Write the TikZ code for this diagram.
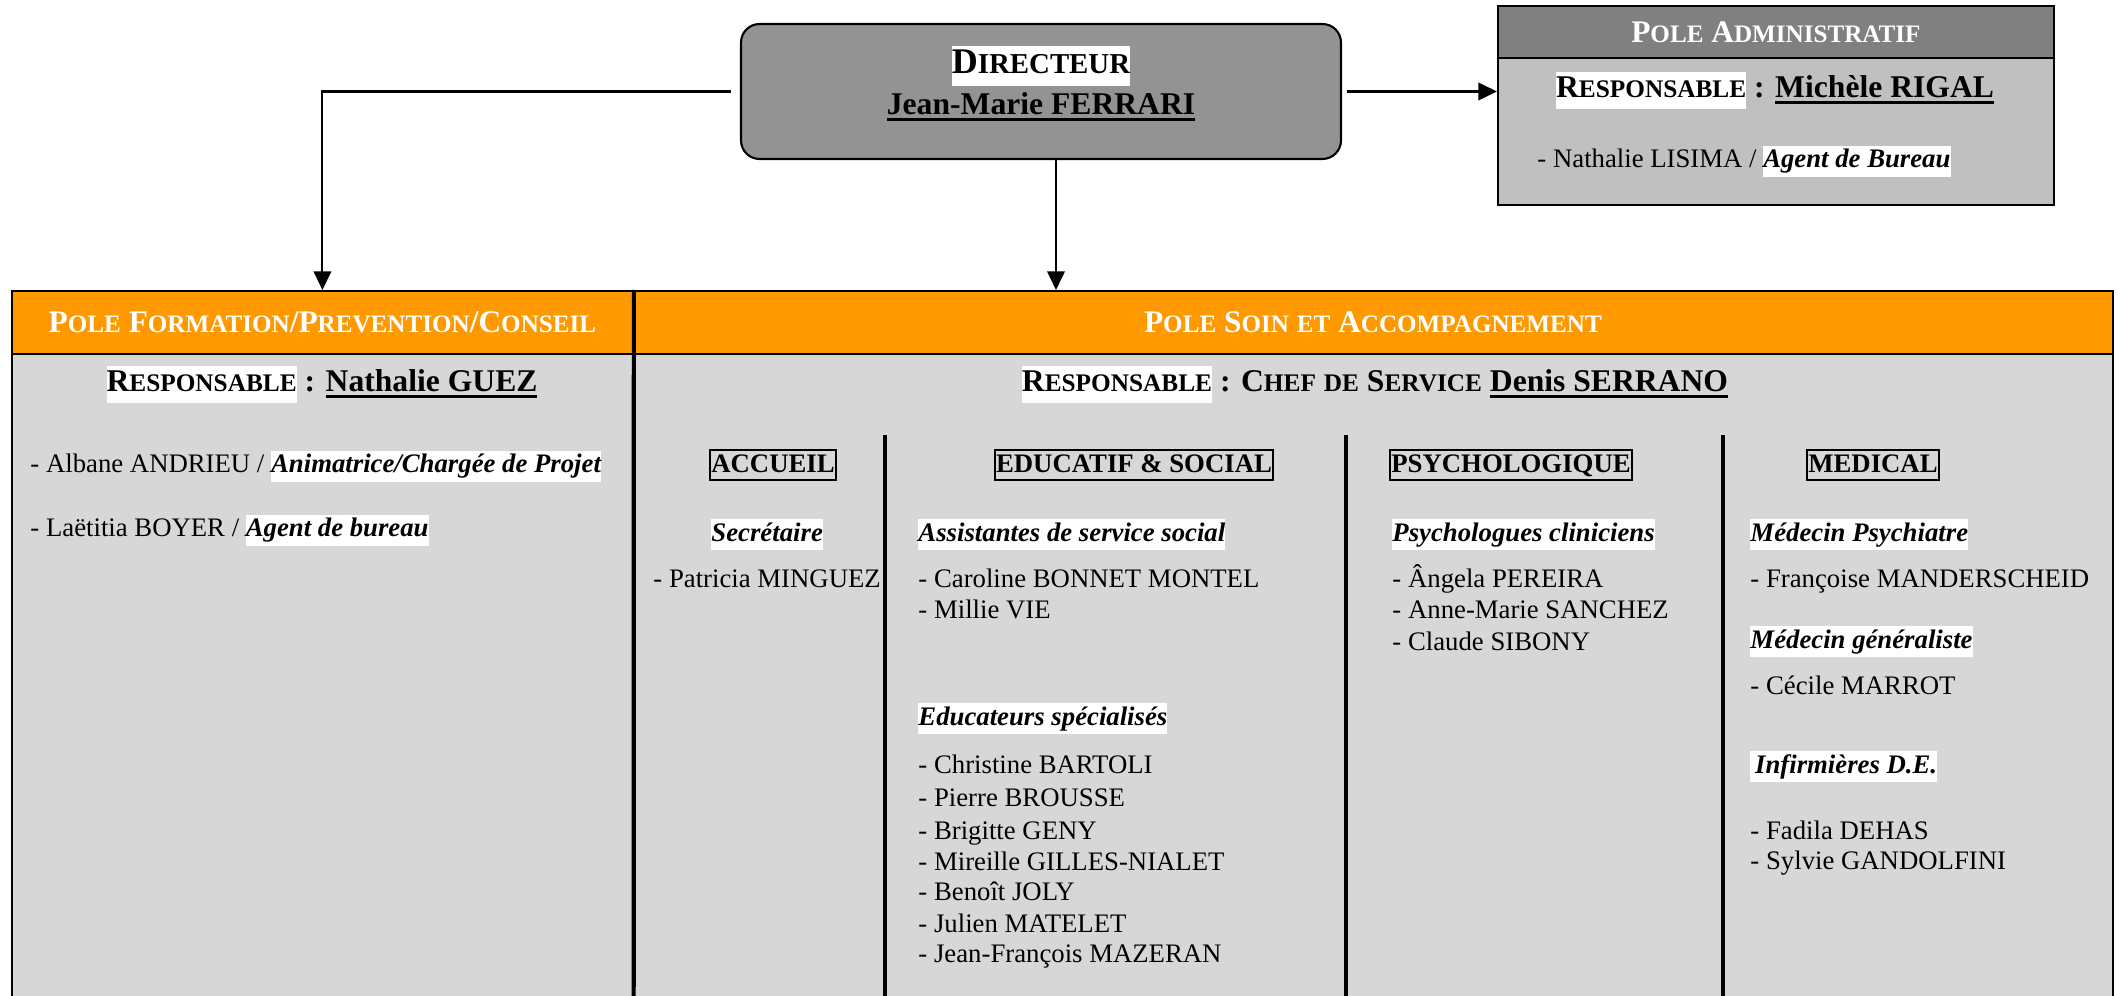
\documentclass[tikz,border=0pt]{standalone}
\usepackage{fontspec}
\setmainfont{Liberation Serif}
\usepackage{xcolor}
\usepackage{tikz}
\usetikzlibrary{arrows.meta,positioning,calc}

\definecolor{dirgray}{HTML}{939393}
\definecolor{admdark}{HTML}{808080}
\definecolor{admlight}{HTML}{C0C0C0}
\definecolor{poleorange}{HTML}{FF9900}
\definecolor{panelgray}{HTML}{D7D7D7}

\newcommand\pxu{0.43pt}
\newcommand\fsc[2]{#1\scalebox{0.8}{#2}}
\newcommand\hl[1]{{\setlength\fboxsep{0pt}\colorbox{white}{\strut#1}}}
\newcommand\thickul[1]{\setbox0\hbox{#1}\rlap{\rule[-2.6pt]{\wd0}{1.1pt}}\box0}

\begin{document}
\begin{tikzpicture}[x=0.43pt, y=-0.43pt,
  dirbox/.style={draw, line width=0.9pt, fill=dirgray, rounded corners=8pt,
    minimum width=600*\pxu, minimum height=135*\pxu},
  bar/.style={draw, line width=0.8pt, fill=poleorange, anchor=north west, inner sep=0pt,
    minimum height=63*\pxu, text=white, font=\fontsize{13.5}{15}\selectfont\bfseries},
  panel/.style={draw, line width=0.7pt, fill=panelgray, anchor=north west, inner sep=0pt,
    minimum height=700*\pxu},
  arr/.style={line width=0.9pt, -{Triangle[length=8pt, width=7.5pt]}},
  colhead/.style={draw, line width=0.9pt, inner xsep=0.6pt, inner ysep=0.8pt,
    text height=9pt, text depth=2.4pt, font=\fontsize{11.5}{13.5}\selectfont\bfseries},
  resp/.style={anchor=base, inner sep=0pt, font=\fontsize{13.6}{16}\selectfont\bfseries},
  item/.style={anchor=base west, inner sep=0pt, font=\fontsize{11.5}{13.5}\selectfont},
  role/.style={item, font=\fontsize{11.5}{13.5}\selectfont\bfseries\itshape}]
\useasboundingbox (0,0) rectangle (2119,996);

\node[dirbox] (dir) at (1041,91.5) {};
\node[resp, font=\fontsize{15.5}{17}\selectfont\bfseries] (dirtitle) at (1041,74) {\hl{\fsc{D}{IRECTEUR}}};
\node[resp] (dirname) at (1041,115) {\thickul{Jean-Marie FERRARI}};

\node[draw, line width=0.8pt, fill=admlight, anchor=north west, inner sep=0pt,
  minimum width=556*\pxu, minimum height=199*\pxu] (adm) at (1497,5) {};
\node[draw, line width=0.8pt, fill=admdark, anchor=north west, inner sep=0pt,
  minimum width=556*\pxu, minimum height=52*\pxu, text=white,
  font=\fontsize{13.5}{15}\selectfont\bfseries] (admhead) at (1497,5)
  {\raisebox{-2.5pt}{\fsc{P}{OLE} \fsc{A}{DMINISTRATIF}}};
\node[resp] (admresp) at (1775,98) {\hl{\fsc{R}{ESPONSABLE}} : \thickul{Michèle RIGAL}};
\node[item] (admitem) at (1537,168) {- Nathalie LISIMA / \hl{\bfseries\itshape Agent de Bureau}};

\node[panel, minimum width=621*\pxu] (formbody) at (11,353) {};
\node[panel, minimum width=1480*\pxu] (soinbody) at (632,353) {};
\node[bar, minimum width=621*\pxu] (formhead) at (11,290)
  {\fsc{P}{OLE} \fsc{F}{ORMATION}/\fsc{P}{REVENTION}/\fsc{C}{ONSEIL}};
\node[bar, minimum width=1480*\pxu] (soinhead) at (632,290)
  {\fsc{P}{OLE} \fsc{S}{OIN} \scalebox{0.8}{ET} \fsc{A}{CCOMPAGNEMENT}};
\draw[line width=1.8pt] (formhead.north east) -- (formbody.south east);
\foreach \x in {885,1346,1723}
  \draw[line width=1.8pt] (\x,435) -- (\x,1000);

\draw[arr, shorten <=4pt] (dir.west) -| (formhead.north);
\draw[arr, shorten <=2pt] (dir.east) -- (dir.east -| adm.west);
\draw[arr] ([xshift=15*\pxu]dir.south) -- ([xshift=15*\pxu]dir.south |- soinhead.north);

\node[resp] (formresp) at (322,392) {\hl{\fsc{R}{ESPONSABLE}} : \thickul{Nathalie GUEZ}};
\node[resp] (soinresp) at (1375,392) {\hl{\fsc{R}{ESPONSABLE}} : \fsc{C}{HEF} \scalebox{0.8}{DE} \fsc{S}{ERVICE} \thickul{Denis SERRANO}};
\node[item] (form1) at (30,473) {- Albane ANDRIEU / \hl{\bfseries\itshape Animatrice/Chargée de Projet}};
\node[item] (form2) at (30,537) {- Laëtitia BOYER / \hl{\bfseries\itshape Agent de bureau}};

\foreach \x/\lab/\nm in {773/ACCUEIL/acc, 1134/EDUCATIF \& SOCIAL/edu, 1511/PSYCHOLOGIQUE/psy, 1873/MEDICAL/med}
  \node[colhead] (\nm) at (\x,465) {\lab};

\node[role] (accrole) at (711,541) {\hl{Secrétaire}};
\node[item] (acc1) at (653,587) {- Patricia MINGUEZ};

\node[role] (asrole) at (918,541) {\hl{Assistantes de service social}};
\foreach \y/\lab [count=\i] in {587/Caroline BONNET MONTEL, 618/Millie VIE}
  \node[item] (as\i) at (918,\y) {- \lab};
\node[role] (edrole) at (918,725) {\hl{Educateurs spécialisés}};
\foreach \y/\lab [count=\i] in {773/Christine BARTOLI, 806/Pierre BROUSSE, 839/Brigitte GENY,
    870/Mireille GILLES-NIALET, 900/Benoît JOLY, 932/Julien MATELET, 962/Jean-François MAZERAN}
  \node[item] (ed\i) at (918,\y) {- \lab};

\node[role] (psyrole) at (1392,541) {\hl{Psychologues cliniciens}};
\foreach \y/\lab [count=\i] in {587/Ângela PEREIRA, 618/Anne-Marie SANCHEZ, 650/Claude SIBONY}
  \node[item] (psy\i) at (1392,\y) {- \lab};

\node[role] (medrole1) at (1750,541) {\hl{Médecin Psychiatre}};
\node[item] (med1) at (1750,587) {- Françoise MANDERSCHEID};
\node[role] (medrole2) at (1750,648) {\hl{Médecin généraliste}};
\node[item] (med2) at (1750,694) {- Cécile MARROT};
\node[role] (medrole3) at (1750,773) {\hl{\hspace{2pt}Infirmières D.E.}};
\foreach \y/\lab [count=\i] in {839/Fadila DEHAS, 869/Sylvie GANDOLFINI}
  \node[item] (nurse\i) at (1750,\y) {- \lab};
\end{tikzpicture}
\end{document}
